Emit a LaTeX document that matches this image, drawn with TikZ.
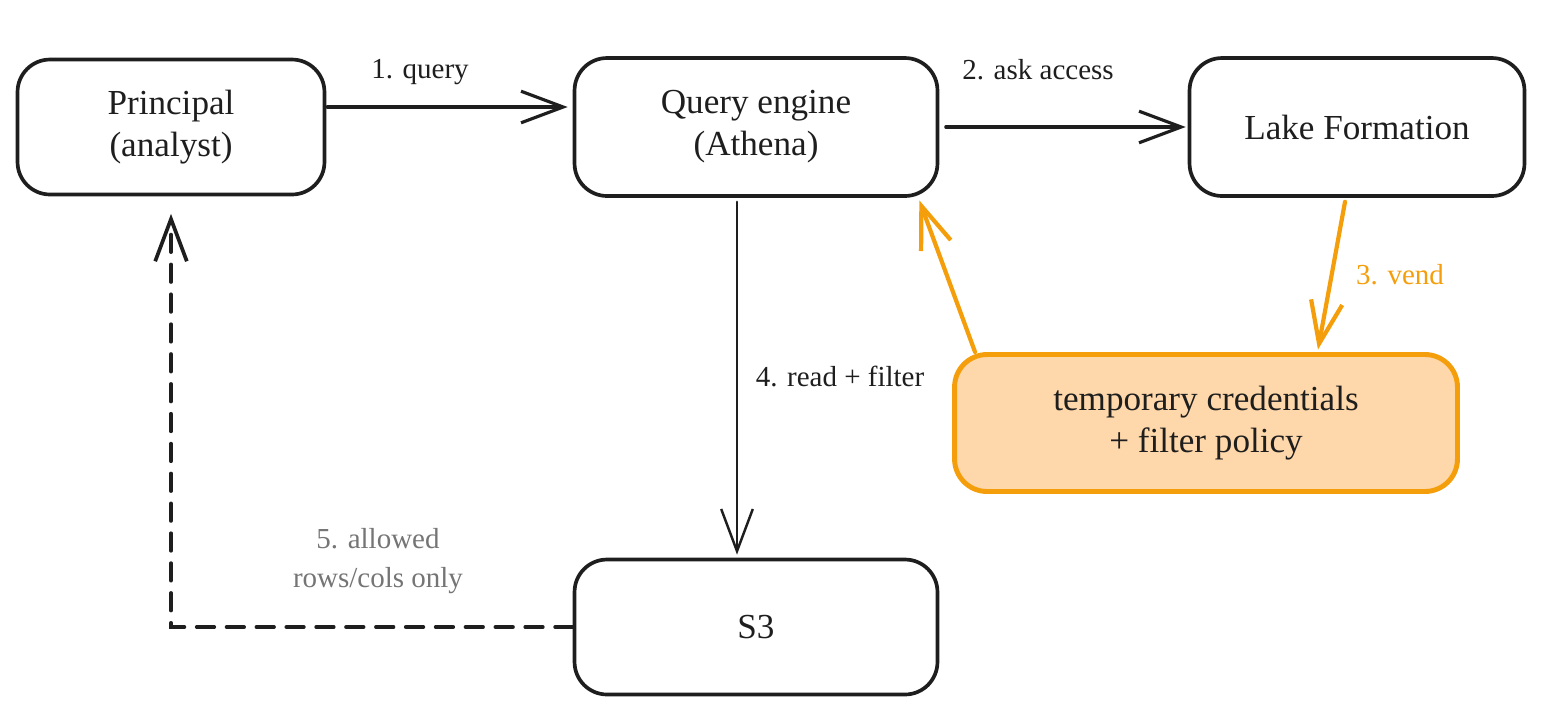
\documentclass[tikz,border=0pt]{standalone}
\usepackage{fontspec}
\setmainfont{Liberation Serif}
\usetikzlibrary{arrows.meta}
\definecolor{sketchink}{HTML}{1E1E1E}
\definecolor{sketchorange}{HTML}{F59E0B}
\definecolor{sketchpeach}{HTML}{FED7AA}
\definecolor{sketchgrey}{HTML}{757575}

\begin{document}
\begin{tikzpicture}[
  x=0.02cm,
  y=-0.02cm,
  every node/.style={sketchink},
  box/.style={draw=sketchink, line width=2.1pt, rounded corners=0.65cm,
              align=center, inner sep=0pt,
              font=\fontsize{20}{24}\selectfont},
  hotbox/.style={box, draw=sketchorange, fill=sketchpeach, line width=2.8pt},
  lbl/.style={align=center, inner sep=1pt,
              font=\fontsize{16.5}{22.5}\selectfont},
  flow/.style={sketchink, line width=1.8pt, line cap=round,
               -{Straight Barb[length=24pt, width=18pt]}},
  flowthin/.style={flow, line width=1.4pt},
  flowhot/.style={flow, sketchorange, line width=2.4pt},
  back/.style={flow, line width=2.1pt, dash pattern=on 10pt off 7pt}
]
  % ---- page frame ------------------------------------------------------
  \useasboundingbox (0,0) rectangle (1558,708);

  % ---- the five boxes --------------------------------------------------
  \node[box, minimum width=6.14cm, minimum height=2.7cm]
    (principal) at (171,127) {Principal\\(analyst)};
  \node[box, minimum width=7.26cm, minimum height=2.76cm]
    (query) at (756,127) {Query engine\\(Athena)};
  \node[box, minimum width=6.7cm, minimum height=2.76cm]
    (lake) at (1357,127) {Lake Formation};
  \node[hotbox, minimum width=10.06cm, minimum height=2.74cm]
    (creds) at (1206,423) {temporary credentials\\+ filter policy};
  \node[box, minimum width=7.26cm, minimum height=2.7cm]
    (s3) at (756,627) {S3};

  % ---- request path ----------------------------------------------------
  \draw[flow] ([xshift=0.02cm, yshift=0.4cm]principal.east)
    -- ([xshift=-0.1cm, yshift=0.4cm]query.west);
  \draw[flow] ([xshift=0.13cm]query.east) -- ([xshift=-0.04cm]lake.west);

  % ---- credentials handed out and back ---------------------------------
  \draw[flowhot] ([xshift=-0.24cm, yshift=-0.08cm]lake.south)
    -- ([xshift=2.24cm, yshift=0.05cm]creds.north);
  \draw[flowhot] ([xshift=-4.62cm]creds.north)
    -- ([xshift=-0.4cm, yshift=-0.05cm]query.south east);

  % ---- read, then the filtered answer ----------------------------------
  \draw[flowthin] ([xshift=-0.38cm, yshift=-0.08cm]query.south)
    -- ([xshift=-0.38cm, yshift=0.06cm]s3.north);
  \draw[back] (s3.west) -| ([yshift=-0.35cm]principal.south);

  % ---- step labels -----------------------------------------------------
  \node[lbl] (lquery) at (420,72) {1. query};
  \node[lbl] (lask) at (1038,70) {2. ask access};
  \node[lbl, sketchorange] (lvend) at (1400,275) {3. vend};
  \node[lbl] (lread) at (840,376) {4. read + filter};
  \node[lbl, sketchgrey] (lallowed) at (378,561)
    {5. allowed\\rows/cols only};

\end{tikzpicture}
\end{document}
